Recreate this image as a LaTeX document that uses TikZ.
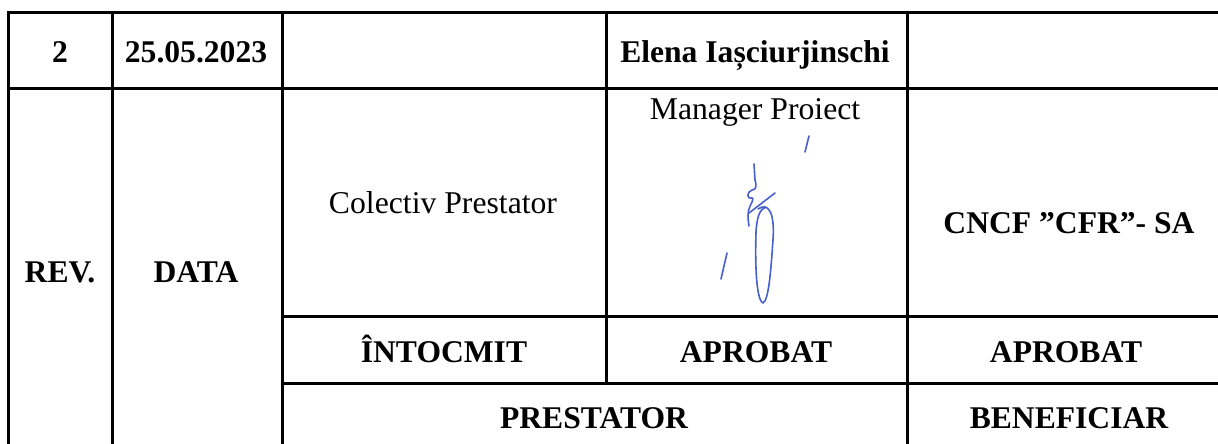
\documentclass[tikz,border=0pt]{standalone}
\usepackage{fontspec}
\setmainfont{Liberation Serif}
\begin{document}
\begin{tikzpicture}[x=1pt,y=-1pt,
  rule/.style={line width=3pt,line cap=rect},
  hd/.style={anchor=base,inner sep=0pt,font=\fontsize{31.6}{38}\selectfont\bfseries},
  tx/.style={anchor=base,inner sep=0pt,font=\fontsize{31.7}{38}\selectfont},
  ink/.style={draw=sigblue,line width=1.6pt,line cap=round,line join=round}]
\definecolor{sigblue}{RGB}{72,96,206}
\useasboundingbox (0,0) rectangle (1218,444);
\fill[white] (0,0) rectangle (1218,444);

% grid of the title block
\draw[rule] (8,13) -- (1220,13);
\draw[rule] (8,88) -- (1220,88);
\draw[rule] (282,316) -- (1220,316);
\draw[rule] (282,383) -- (1220,383);
\draw[rule] (8,13) -- (8,446);
\draw[rule] (112,13) -- (112,446);
\draw[rule] (282,13) -- (282,446);
\draw[rule] (606,13) -- (606,383);
\draw[rule] (907,13) -- (907,446);

% first row
\node[hd] (rev) at (60,63) {2};
\node[hd] (date) at (196,63) {25.05.2023};
\node[hd] (name) at (755,63) {Elena Iașciurjinschi};

% signature row
\node[tx] (role) at (755,119) {Manager Proiect};
\node[tx] (team) at (443,213) {Colectiv Prestator};
\node[hd] (client) at (1069,233) {CNCF ”CFR”- SA};
\node[hd] (revh) at (60,282) {REV.};
\node[hd] (dateh) at (196,282) {DATA};

% role row
\node[hd] (made) at (444,362) {ÎNTOCMIT};
\node[hd] (appr) at (756,362) {APROBAT};
\node[hd] (appr2) at (1066,362) {APROBAT};

% party row
\node[hd] (prov) at (594,428) {PRESTATOR};
\node[hd] (benef) at (1069,428) {BENEFICIAR};

% handwritten signature
\draw[ink] (809,136) -- (805,152);
\draw[ink] (727,253) -- (721,279);
\draw[ink] (754,164) -- (755,180)
  .. controls (757,186) and (756,190) .. (752,190)
  .. controls (746,192) and (747,200) .. (752,198)
  .. controls (754,197) and (752,203) .. (750,206)
  .. controls (747,212) and (748,220) .. (749,226);
\draw[ink] (749,213) -- (775,193);
\draw[ink] (758,209)
  .. controls (768,202) and (775,212) .. (773,240)
  .. controls (771,268) and (769,300) .. (763,303)
  .. controls (756,300) and (755,262) .. (756,232)
  .. controls (757,216) and (760,209) .. (766,207);
\end{tikzpicture}
\end{document}
